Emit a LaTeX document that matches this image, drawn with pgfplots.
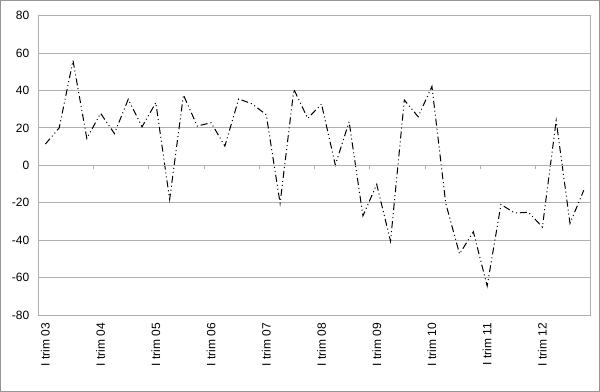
\documentclass[border=0pt]{standalone}
\usepackage{fontspec}
\setmainfont{Liberation Sans}
\usepackage{pgfplots}
\pgfplotsset{compat=1.18}
\definecolor{gridc}{RGB}{176,176,176}
\definecolor{framec}{RGB}{150,150,150}
\begin{document}
\begin{tikzpicture}
\draw[framec, line width=1bp] (0.5bp,0.5bp) rectangle (599.5bp,391.5bp);
\begin{axis}[
  at={(38.5bp,77bp)}, anchor=south west,
  scale only axis, width=552.2bp, height=299.3bp,
  xmin=0, xmax=40, ymin=-80, ymax=80,
  ytick={-80,-60,...,80},
  yticklabels={-80,-60,-40,-20,0,20,40,60,80},
  xtick={0.5,4.5,...,36.5},
  xticklabels={I trim 03,I trim 04,I trim 05,I trim 06,I trim 07,I trim 08,I trim 09,I trim 10,I trim 11,I trim 12},
  ymajorgrids, grid style={gridc, line width=1bp},
  axis line style={gridc, line width=1bp},
  major tick length=0pt,
  tick label style={font=\fontsize{12bp}{14bp}\selectfont, text=black},
  xticklabel style={yshift=-8bp, rotate=90, anchor=east, inner sep=0pt},
  yticklabel style={anchor=east, inner sep=0pt, xshift=-9bp},
  clip=false,
]
\addplot[black, line width=1bp, dash pattern=on 7bp off 3bp on 1bp off 3bp on 1bp off 3bp] coordinates {
(0.5,11.4) (1.5,20) (2.5,56) (3.5,14.4) (4.5,27.8) (5.5,17) (6.5,35.3) (7.5,20.6)
(8.5,33.5) (9.5,-18.2) (10.5,37.6) (11.5,21) (12.5,22.8) (13.5,10.3) (14.5,35.5) (15.5,32.8)
(16.5,27) (17.5,-20.2) (18.5,40.6) (19.5,25.1) (20.5,32.8) (21.5,0.2) (22.5,23.3) (23.5,-27)
(24.5,-10.2) (25.5,-40.5) (26.5,34.9) (27.5,26) (28.5,42.2) (29.5,-20.3) (30.5,-47.4) (31.5,-35.5)
(32.5,-64.5) (33.5,-20.9) (34.5,-25.5) (35.5,-25.1) (36.5,-33) (37.5,23.9) (38.5,-31) (39.5,-13.3)
};
\end{axis}
\begin{axis}[
  at={(38.5bp,77bp)}, anchor=south west,
  scale only axis, width=552.2bp, height=299.3bp,
  xmin=0, xmax=40, ymin=-80, ymax=80,
  axis x line*=middle, axis y line=none,
  x axis line style={-, gridc, line width=1bp},
  xtick={4,8,...,36}, xticklabels={},
  ytick=\empty,
  xtick align=outside,
  major tick length=4bp,
  xtick style={gridc, line width=1bp},
]
\end{axis}
\end{tikzpicture}
\end{document}
